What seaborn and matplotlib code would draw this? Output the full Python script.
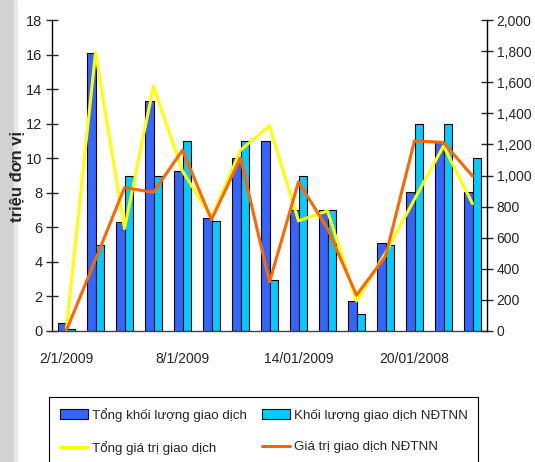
import matplotlib
matplotlib.use('Agg')
import matplotlib.pyplot as plt
import seaborn as sns
import pandas as pd
from matplotlib.patches import Patch, Rectangle
from matplotlib.lines import Line2D
from matplotlib.ticker import FuncFormatter, MultipleLocator

# trading days, January 2009
dates = ['2/1', '5/1', '6/1', '7/1', '8/1', '9/1', '12/1', '13/1',
         '14/1', '15/1', '16/1', '19/1', '20/1', '21/1', '22/1']
tick_idx = [0, 4, 8, 12]
tick_labels = ['2/1/2009', '8/1/2009', '14/01/2009', '20/01/2008']

# volumes (million units, left axis)
total_volume = [0.45, 16.1, 6.3, 13.3, 9.25, 6.55, 10.0, 11.0, 7.0, 7.0, 1.75, 5.1, 8.05, 11.0, 8.05]
foreign_volume = [0.1, 5.0, 9.0, 9.0, 11.0, 6.35, 11.0, 2.95, 9.0, 7.0, 1.0, 5.0, 12.0, 12.0, 10.0]
# values (right axis)
total_value = [15, 1790, 659, 1574, 1028, 729, 1163, 1319, 708, 772, 193, 502, 847, 1190, 819]
foreign_value = [5, 460, 922, 892, 1163, 716, 1113, 315, 959, 659, 230, 480, 1223, 1212, 997]

bar_names = ['Tổng khối lượng giao dịch', 'Khối lượng giao dịch NĐTNN']
line_names = ['Tổng giá trị giao dịch', 'Giá trị giao dịch NĐTNN']

BLUE = '#3366ff'
CYAN = '#00ccff'
YELLOW = '#ffff00'
ORANGE = '#ff6600'

sns.set_style('white')
plt.rcParams['font.family'] = ['Liberation Sans', 'DejaVu Sans']

bars = pd.DataFrame({
    'date': dates * 2,
    'volume': total_volume + foreign_volume,
    'series': [bar_names[0]] * len(dates) + [bar_names[1]] * len(dates),
})
lines = pd.DataFrame({
    'pos': list(range(len(dates))),
    'total': total_value,
    'foreign': foreign_value,
})

fig = plt.figure(figsize=(5.35, 4.62), dpi=100)
fig.subplots_adjust(left=52 / 535, right=487 / 535, bottom=1 - 331 / 462, top=1 - 20 / 462)
ax = fig.add_subplot(111)

# gray strip on the left edge
fig.patches.append(Rectangle((0, 0), 14 / 535, 1, transform=fig.transFigure,
                             color='#d2d2d2', zorder=0))
fig.patches.append(Rectangle((14 / 535, 0), 3 / 535, 1, transform=fig.transFigure,
                             color='#e8e8e8', zorder=0))

sns.barplot(data=bars, x='date', y='volume', hue='series', order=dates,
            hue_order=bar_names, palette=[BLUE, CYAN], width=0.6, gap=0,
            edgecolor='black', linewidth=0.8, saturation=1, legend=False, ax=ax)
ax.set_xlim(-0.5, len(dates) - 0.5)
ax.set_ylim(0, 18)
ax.yaxis.set_major_locator(MultipleLocator(2))

ax2 = ax.twinx()
sns.lineplot(data=lines, x='pos', y='total', color=YELLOW, lw=2.2, ax=ax2)
sns.lineplot(data=lines, x='pos', y='foreign', color=ORANGE, lw=2.2, ax=ax2)
ax2.set_ylim(0, 2000)
ax2.yaxis.set_major_locator(MultipleLocator(200))
ax2.yaxis.set_major_formatter(FuncFormatter(lambda v, p: f'{v:,.0f}'))
ax2.set_xlim(-0.5, len(dates) - 0.5)

# x axis: labels every 4 days, tick marks between categories
ax.set_xticks(tick_idx)
ax.set_xticklabels(tick_labels)
ax.set_xticks([i - 0.5 for i in tick_idx], minor=True)
ax.tick_params(axis='x', which='major', length=0, pad=15, labelsize=10)
ax.tick_params(axis='x', which='minor', direction='inout', length=9, width=1, color='black')
ax.tick_params(axis='y', direction='inout', length=8, width=1, pad=3, labelsize=10.5, left=True)
ax2.tick_params(axis='y', direction='inout', length=8, width=1, pad=3, labelsize=10, right=True)

ax.set_xlabel('')
ax.set_ylabel('')
ax2.set_xlabel('')
ax2.set_ylabel('')

for a in (ax, ax2):
    a.spines['top'].set_visible(False)
ax.spines['right'].set_visible(False)
ax.spines['left'].set_color('black')
ax.spines['bottom'].set_color('#444444')
ax2.spines['right'].set_color('black')
ax2.spines['left'].set_visible(False)
ax2.spines['bottom'].set_visible(False)
for s in ('left', 'bottom'):
    ax.spines[s].set_linewidth(1.0)
ax2.spines['right'].set_linewidth(1.0)

fig.text(18 / 535, 1 - 176 / 462, 'triệu đơn vị', rotation=90, ha='center', va='center',
         fontsize=12, fontweight='bold')

handles = [
    Patch(facecolor=BLUE, edgecolor='black', linewidth=0.8),
    Line2D([], [], color=YELLOW, lw=2.2),
    Patch(facecolor=CYAN, edgecolor='black', linewidth=0.8),
    Line2D([], [], color=ORANGE, lw=2.2),
]
labels = [bar_names[0], line_names[0], bar_names[1], line_names[1]]
leg = fig.legend(handles, labels, ncol=2, loc='upper left',
                 bbox_to_anchor=(49 / 535, 1 - 397 / 462), borderaxespad=0,
                 fontsize=9.6, frameon=True, fancybox=False, framealpha=1,
                 edgecolor='black', handlelength=2.1, handletextpad=0.3,
                 columnspacing=1.15, labelspacing=1.45, borderpad=0.8)
leg.get_frame().set_linewidth(0.8)

fig.savefig('out.png', dpi=100)
